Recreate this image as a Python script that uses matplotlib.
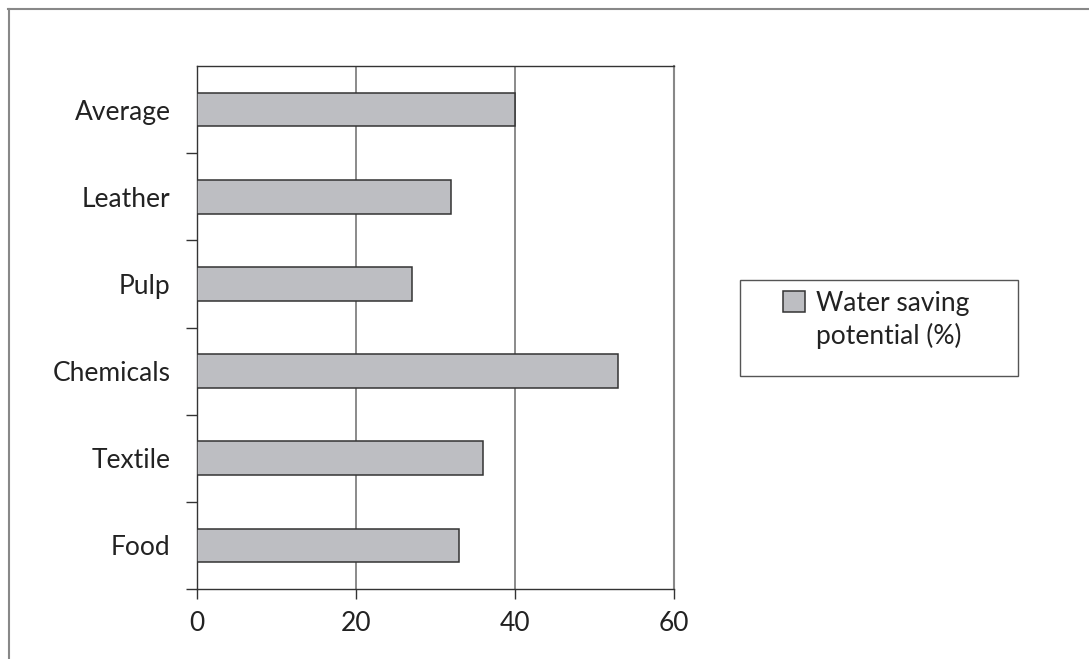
import matplotlib.pyplot as plt
from matplotlib.lines import Line2D
from matplotlib.patches import Rectangle, Patch

plt.rcParams["font.family"] = ["Lato", "DejaVu Sans"]

# Water saving potential by industry (%), bottom to top
sectors = ["Food", "Textile", "Chemicals", "Pulp", "Leather", "Average"]
saving = [33, 36, 53, 27, 32, 40]
xticks = [0, 20, 40, 60]

W, H = 1089, 659
fig = plt.figure(figsize=(W / 100, H / 100), dpi=100)
ax = fig.add_axes([197 / W, 1 - 589 / H, 477 / W, 523 / H])

pos = list(range(len(sectors)))
bars = ax.barh(pos, saving, height=0.385, color="#bdbec2", edgecolor="#333333",
               linewidth=1.1, zorder=3)

ax.set_xlim(0, 60)
ax.set_ylim(-0.5, len(sectors) - 0.5)
ax.set_xticks(xticks)
ax.set_xticklabels([str(v) for v in xticks])

# category names centred on the bars, tick marks between categories
ax.set_yticks(pos)
ax.set_yticklabels(sectors)
ax.set_yticks([p - 0.5 for p in pos], minor=True)
ax.tick_params(axis="y", which="major", length=0, pad=19, labelsize=19,
               labelcolor="#222222")
ax.tick_params(axis="y", which="minor", length=8, width=1, color="#333333")
ax.tick_params(axis="x", length=7.5, width=1, color="#333333", pad=8,
               labelsize=19, labelcolor="#222222")

ax.grid(axis="x", color="#777777", linewidth=1.2, zorder=0)
for side in ["left", "bottom", "top"]:
    ax.spines[side].set_color("#333333")
    ax.spines[side].set_linewidth(1)
ax.spines["right"].set_color("#888888")
ax.spines["right"].set_linewidth(1.5)

# legend: first row carries the bar swatch, second row continues the text
blank = Patch(facecolor="none", edgecolor="none")
leg = fig.legend([bars, blank], ["Water saving", "potential (%)"],
                 loc="upper left", bbox_to_anchor=(783 / W, 1 - 291 / H),
                 bbox_transform=fig.transFigure, fontsize=19, frameon=False,
                 handlelength=0.85, handleheight=0.85, handletextpad=0.4,
                 labelspacing=0.25, borderpad=0, borderaxespad=0)
for t in leg.get_texts():
    t.set_color("#222222")
fig.add_artist(Rectangle((740 / W, 1 - 376 / H), 278 / W, 96 / H,
                         transform=fig.transFigure, facecolor="none",
                         edgecolor="#555555", lw=1))

# outer frame along top and left edges
fig.add_artist(Line2D([8.5 / W, 8.5 / W], [0, 1 - 9 / H],
                      transform=fig.transFigure, color="#888888", lw=1.5))
fig.add_artist(Line2D([8 / W, 1], [1 - 9 / H, 1 - 9 / H],
                      transform=fig.transFigure, color="#888888", lw=1.5))

fig.savefig("out.png", dpi=100)
